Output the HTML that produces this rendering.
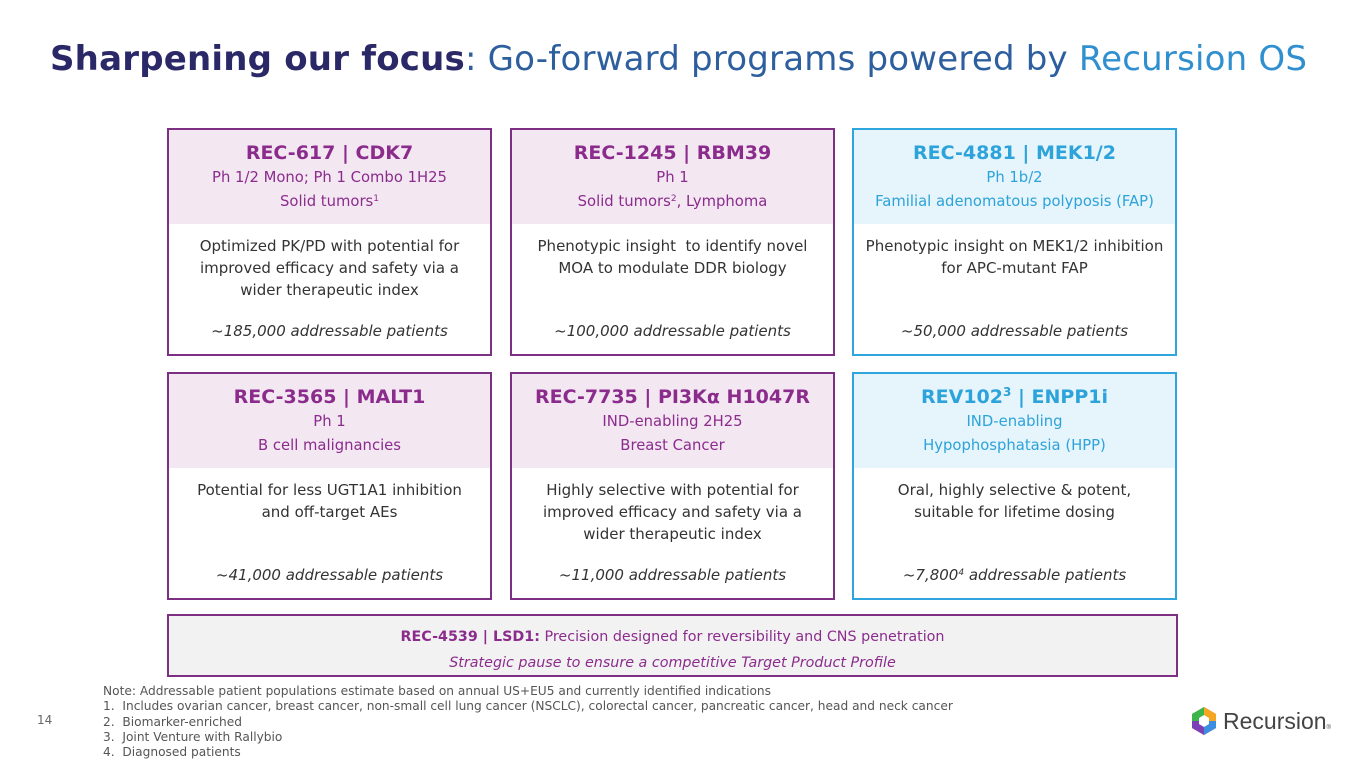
<!DOCTYPE html>
<html><head><meta charset="utf-8"><style>
*{margin:0;padding:0;box-sizing:border-box}
body{width:1365px;height:768px;background:#fff;font-family:"DejaVu Sans","Liberation Sans",sans-serif;position:relative;overflow:hidden}
.t{position:absolute;left:50px;top:39px;font-size:34px;white-space:nowrap;letter-spacing:0.2px}
.card{position:absolute;width:325px;height:228px;border:2px solid #7d2f83;background:#fff}
.card .hd{height:94px;background:#f3e7f2;text-align:center;color:#8b2c8d;padding-top:11px}
.card.b{border-color:#2ea5dd}.card.b .hd{background:#e6f4fb;color:#2ca3da}
.hd h3{font-size:19px;font-weight:bold;line-height:25px;height:25px}
.hd p{font-size:14.8px;line-height:24px}
.bd{text-align:center;font-size:15px;line-height:22px;color:#333;padding:11px 22px 0}
.pt{position:absolute;left:0;right:0;bottom:14px;text-align:center;font-style:italic;font-size:15px;color:#333}
sup{font-size:9px;line-height:0;vertical-align:5px}
.notes{position:absolute;left:103px;top:684px;font-size:12.2px;line-height:15.3px;color:#555}
</style></head><body>
<div class="t"><b style="color:#2b2868">Sharpening our focus</b><span style="color:#2d5f9f">: Go-forward programs powered by </span><span style="color:#2f8fcf">Recursion OS</span></div>

<div class="card" style="left:167px;top:128px"><div class="hd"><h3>REC-617 | CDK7</h3><p>Ph 1/2 Mono; Ph 1 Combo 1H25</p><p>Solid tumors<sup>1</sup></p></div><div class="bd">Optimized PK/PD with potential for improved efficacy and safety via a wider therapeutic index</div><div class="pt">~185,000 addressable patients</div></div>
<div class="card" style="left:510px;top:128px"><div class="hd"><h3>REC-1245 | RBM39</h3><p>Ph 1</p><p>Solid tumors<sup>2</sup>, Lymphoma</p></div><div class="bd">Phenotypic insight&nbsp; to identify novel MOA to modulate DDR biology</div><div class="pt">~100,000 addressable patients</div></div>
<div class="card b" style="left:852px;top:128px"><div class="hd"><h3>REC-4881 | MEK1/2</h3><p>Ph 1b/2</p><p>Familial adenomatous polyposis (FAP)</p></div><div class="bd" style="padding-left:8px;padding-right:8px">Phenotypic insight on MEK1/2 inhibition for APC-mutant FAP</div><div class="pt">~50,000 addressable patients</div></div>

<div class="card" style="left:167px;top:372px"><div class="hd"><h3>REC-3565 | MALT1</h3><p>Ph 1</p><p>B cell malignancies</p></div><div class="bd">Potential for less UGT1A1 inhibition and off-target AEs</div><div class="pt">~41,000 addressable patients</div></div>
<div class="card" style="left:510px;top:372px"><div class="hd"><h3>REC-7735 | PI3Kα H1047R</h3><p>IND-enabling 2H25</p><p>Breast Cancer</p></div><div class="bd">Highly selective with potential for improved efficacy and safety via a wider therapeutic index</div><div class="pt">~11,000 addressable patients</div></div>
<div class="card b" style="left:852px;top:372px"><div class="hd"><h3>REV102<sup style="font-size:12px;vertical-align:7px">3</sup> | ENPP1i</h3><p>IND-enabling</p><p>Hypophosphatasia (HPP)</p></div><div class="bd">Oral, highly selective &amp; potent, suitable for lifetime dosing</div><div class="pt">~7,800<sup>4</sup> addressable patients</div></div>

<div style="position:absolute;left:167px;top:614px;width:1011px;height:63px;border:2px solid #7d2f83;background:#f2f2f2;text-align:center;color:#8b2c8d;font-size:14.3px;padding-top:8px;line-height:26px"><div><b>REC-4539 | LSD1:</b> Precision designed for reversibility and CNS penetration</div><div style="font-style:italic">Strategic pause to ensure a competitive Target Product Profile</div></div>

<div class="notes">Note: Addressable patient populations estimate based on annual US+EU5 and currently identified indications<br>1.&nbsp; Includes ovarian cancer, breast cancer, non-small cell lung cancer (NSCLC), colorectal cancer, pancreatic cancer, head and neck cancer<br>2.&nbsp; Biomarker-enriched<br>3.&nbsp; Joint Venture with Rallybio<br>4.&nbsp; Diagnosed patients</div>
<div style="position:absolute;left:37px;top:713px;font-size:12px;color:#666">14</div>

<div style="position:absolute;left:1190px;top:706px;display:flex;align-items:center">
<svg width="28" height="30" viewBox="0 0 28 30"><polygon points="14,1 26,8 26,22 14,29 2,22 2,8" fill="#e84d3d"/><polygon points="14,1 26,8 26,15 14,15" fill="#f5a623"/><polygon points="26,15 26,22 14,29 14,15" fill="#3b8ee0"/><polygon points="14,29 2,22 2,15 14,15" fill="#7b3fb6"/><polygon points="2,15 2,8 14,1 14,15" fill="#3cb54a"/><polygon points="14,9 19,12 19,18 14,21 9,18 9,12" fill="#fff"/></svg>
<span style="font-family:'Liberation Sans',sans-serif;font-size:23px;color:#444;margin-left:5px">Recursion<span style="font-size:6px">®</span></span></div>
</body></html>
